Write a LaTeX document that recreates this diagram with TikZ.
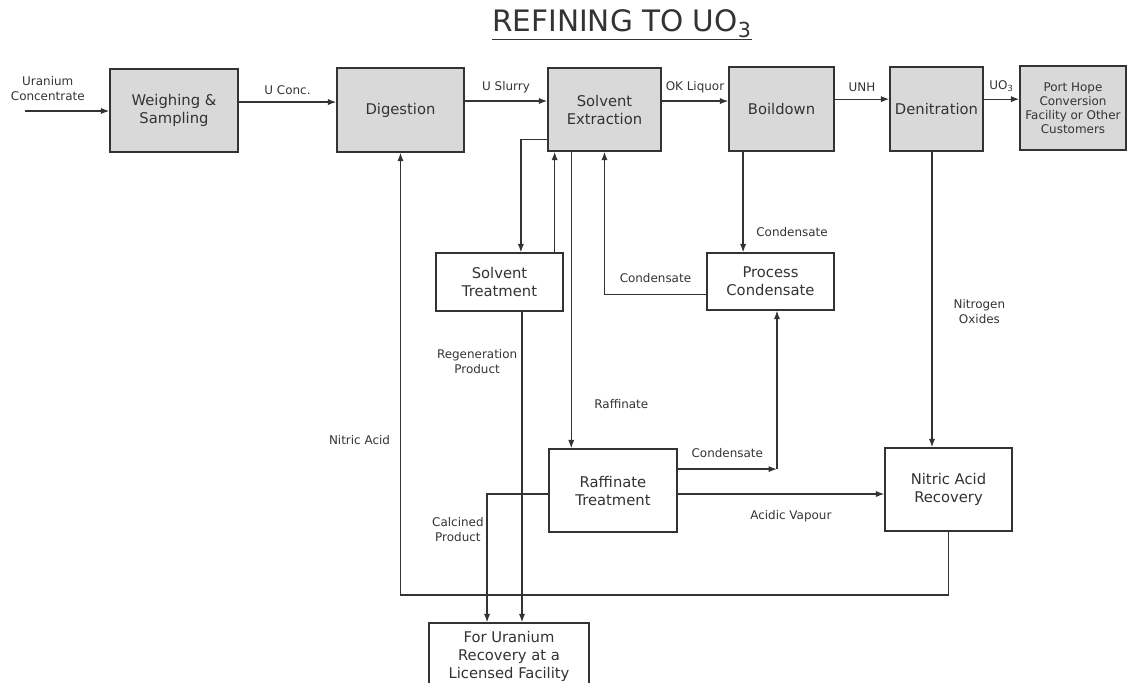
\documentclass[tikz,border=0pt]{standalone}
\usepackage{fontspec}
\setmainfont{DejaVu Sans}
\usetikzlibrary{arrows.meta,positioning}

\begin{document}
\begin{tikzpicture}[x=0.025cm,y=-0.025cm,->,>={Latex[length=6pt,width=4.4pt]},
                    line width=0.9pt,color=black!80]
  \tikzstyle{unit}=[rectangle,draw=black!80,fill=black!15,align=center,inner sep=1pt,
                    font=\fontsize{10.5}{12.8}\selectfont]
  \tikzstyle{aux}=[unit,fill=white]
  \tikzstyle{lbl}=[align=center,inner sep=1pt,font=\fontsize{8.5}{10.6}\selectfont]

  \useasboundingbox (0,0) rectangle (1127,683);
  \clip (0,0) rectangle (1127,683);

  \node[font=\fontsize{21}{25}\selectfont] (title) at (622,25) {\underline{REFINING TO UO\textsubscript{3}}};

  % main line
  \node[unit,minimum width=3.2cm,minimum height=2.075cm]   (weigh)  at (174,110.5)  {Weighing \&\\Sampling};
  \node[unit,minimum width=3.175cm,minimum height=2.1cm]   (digest) at (400.5,110)  {Digestion};
  \node[unit,minimum width=2.825cm,minimum height=2.075cm] (solvx)  at (604.5,109.5) {Solvent\\Extraction};
  \node[unit,minimum width=2.625cm,minimum height=2.1cm]   (boil)   at (781.5,109)  {Boildown};
  \node[unit,minimum width=2.325cm,minimum height=2.1cm]   (denit)  at (936.5,109)  {Denitration};
  \node[unit,minimum width=2.65cm,minimum height=2.1cm,
        font=\fontsize{8.5}{10}\selectfont]               (port)   at (1073,108)    {Port Hope\\Conversion\\Facility or Other\\Customers};

  % side streams
  \node[aux,minimum width=3.175cm,minimum height=1.45cm]  (solvt) at (499.5,282)   {Solvent\\Treatment};
  \node[aux,minimum width=3.175cm,minimum height=1.425cm] (cond)  at (770.5,281.5) {Process\\Condensate};
  \node[aux,minimum width=3.2cm,minimum height=2.075cm]   (raff)  at (613,490.5)   {Raffinate\\Treatment};
  \node[aux,minimum width=3.175cm,minimum height=2.075cm] (nar)   at (948.5,489.5) {Nitric Acid\\Recovery};
  \node[aux,minimum width=4cm,minimum height=1.65cm]      (recov) at (509,656)     {For Uranium\\Recovery at a\\Licensed Facility};

  \coordinate (feed) at (25,111);
  \coordinate (ret)  at (0,595);
  \coordinate (raffout) at ([yshift=15.2pt]raff.east);
  \coordinate (condin)  at ([xshift=4.6pt]cond.south);

  \draw (feed) -- (feed -| weigh.west) node[lbl,above=6pt,pos=0.27] {Uranium\\Concentrate};
  \draw ([yshift=6pt]weigh.east) -- ([yshift=6pt]weigh.east -| digest.west) node[lbl,midway,above=4pt] {U Conc.};
  \draw ([yshift=6.4pt]digest.east) -- ([yshift=6.4pt]digest.east -| solvx.west) node[lbl,midway,above=4pt] {U Slurry};
  \draw ([yshift=6pt]solvx.east) -- ([yshift=6pt]solvx.east -| boil.west) node[lbl,midway,above=4pt] {OK Liquor};
  \draw ([yshift=7pt]boil.east) -- ([yshift=7pt]boil.east -| denit.west) node[lbl,midway,above=4pt] {UNH};
  \draw ([yshift=7pt]denit.east) -- ([yshift=7pt]denit.east -| port.west) node[lbl,midway,above=4pt] {UO\textsubscript{3}};

  \draw ([yshift=8.5pt]solvx.south west) -| ([xshift=15.2pt]solvt.north);
  \draw ([xshift=-6.4pt]solvt.north east) -- ([xshift=-6.4pt]solvt.north east |- solvx.south);
  \draw ([xshift=17pt]solvx.south west) -- ([xshift=17pt]solvx.south west |- raff.north)
        node[lbl,right=15pt,pos=0.85] {Raffinate};
  \draw ([yshift=-9pt]cond.west) -| (solvx.south) node[lbl,above=7pt,pos=0.25] {Condensate};
  \draw ([xshift=-27.3pt]boil.south) -- ([xshift=-27.3pt]boil.south |- cond.north)
        node[lbl,right=8pt,pos=0.8] {Condensate};

  \draw (raffout) -- (raffout -| condin) node[lbl,midway,above=7pt] {Condensate};
  \draw (raffout -| condin) -- (condin);
  \draw ([yshift=-2.5pt]raff.east) -- ([yshift=-2.5pt]raff.east -| nar.west)
        node[lbl,midway,below=10pt,xshift=7pt] {Acidic Vapour};
  \draw ([xshift=-3.2pt]denit.south) -- ([xshift=-3.2pt]denit.south |- nar.north)
        node[lbl,right=14pt,pos=0.54] {Nitrogen\\Oxides};

  \draw (nar.south) |- (ret -| digest.south) -- (digest.south) node[lbl,left=6pt,pos=0.35] {Nitric Acid};
  \draw ([yshift=-2.5pt]raff.west) -| ([xshift=-15.6pt]recov.north) node[lbl,left=1pt,pos=0.64] {Calcined\\Product};
  \draw ([xshift=16pt]solvt.south) -- ([xshift=16pt]solvt.south |- recov.north)
        node[lbl,left=2pt,pos=0.16] {Regeneration\\Product};
\end{tikzpicture}
\end{document}
